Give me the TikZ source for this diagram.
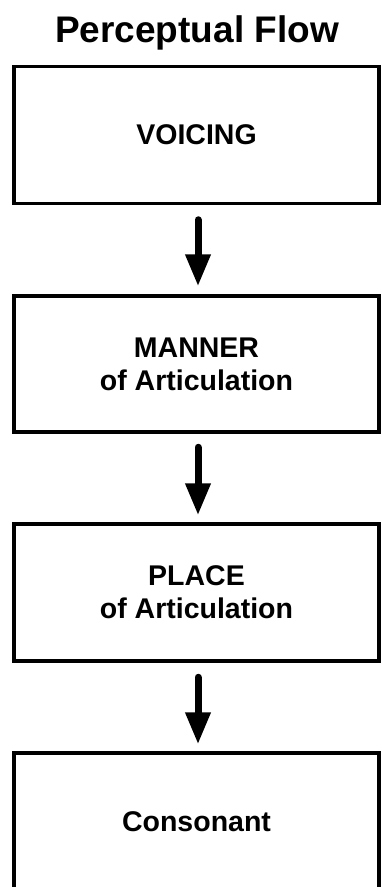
\documentclass[tikz,border=0pt]{standalone}
\usepackage{fontspec}
\setmainfont{Liberation Sans}
\usetikzlibrary{arrows.meta}
\begin{document}
\begin{tikzpicture}[x=1pt,y=-1pt,
  box/.style={draw,line width=3.5pt,minimum width=365pt,inner sep=0pt,align=center,
    font=\bfseries\fontsize{28.5}{33}\selectfont},
  flow/.style={line width=7pt,line cap=round,-{Triangle[width=24pt,length=32pt]}},
  titlestyle/.style={font=\bfseries\fontsize{37}{40}\selectfont,inner sep=0pt,anchor=base}]
\useasboundingbox (0,0) rectangle (382,887);
\clip (0,0) rectangle (382,887);
\node[titlestyle] (title) at (197,42.5) {Perceptual Flow};
\node[box,minimum height=137pt] (b1) at (196.5,135) {VOICING};
\node[box,minimum height=136pt] (b2) at (196.5,364) {MANNER\\of Articulation};
\node[box,minimum height=137pt] (b3) at (196.5,592.5) {PLACE\\of Articulation};
\node[box,minimum height=138pt] (b4) at (196.5,822) {Consonant};
\draw[flow] ([xshift=1.5pt,yshift=-14.5pt]b1.south) -- ([xshift=1.5pt,yshift=8pt]b2.north);
\draw[flow] ([xshift=1.5pt,yshift=-13.5pt]b2.south) -- ([xshift=1.5pt,yshift=7pt]b3.north);
\draw[flow] ([xshift=1.5pt,yshift=-14.5pt]b3.south) -- ([xshift=1.5pt,yshift=7pt]b4.north);
\end{tikzpicture}
\end{document}
